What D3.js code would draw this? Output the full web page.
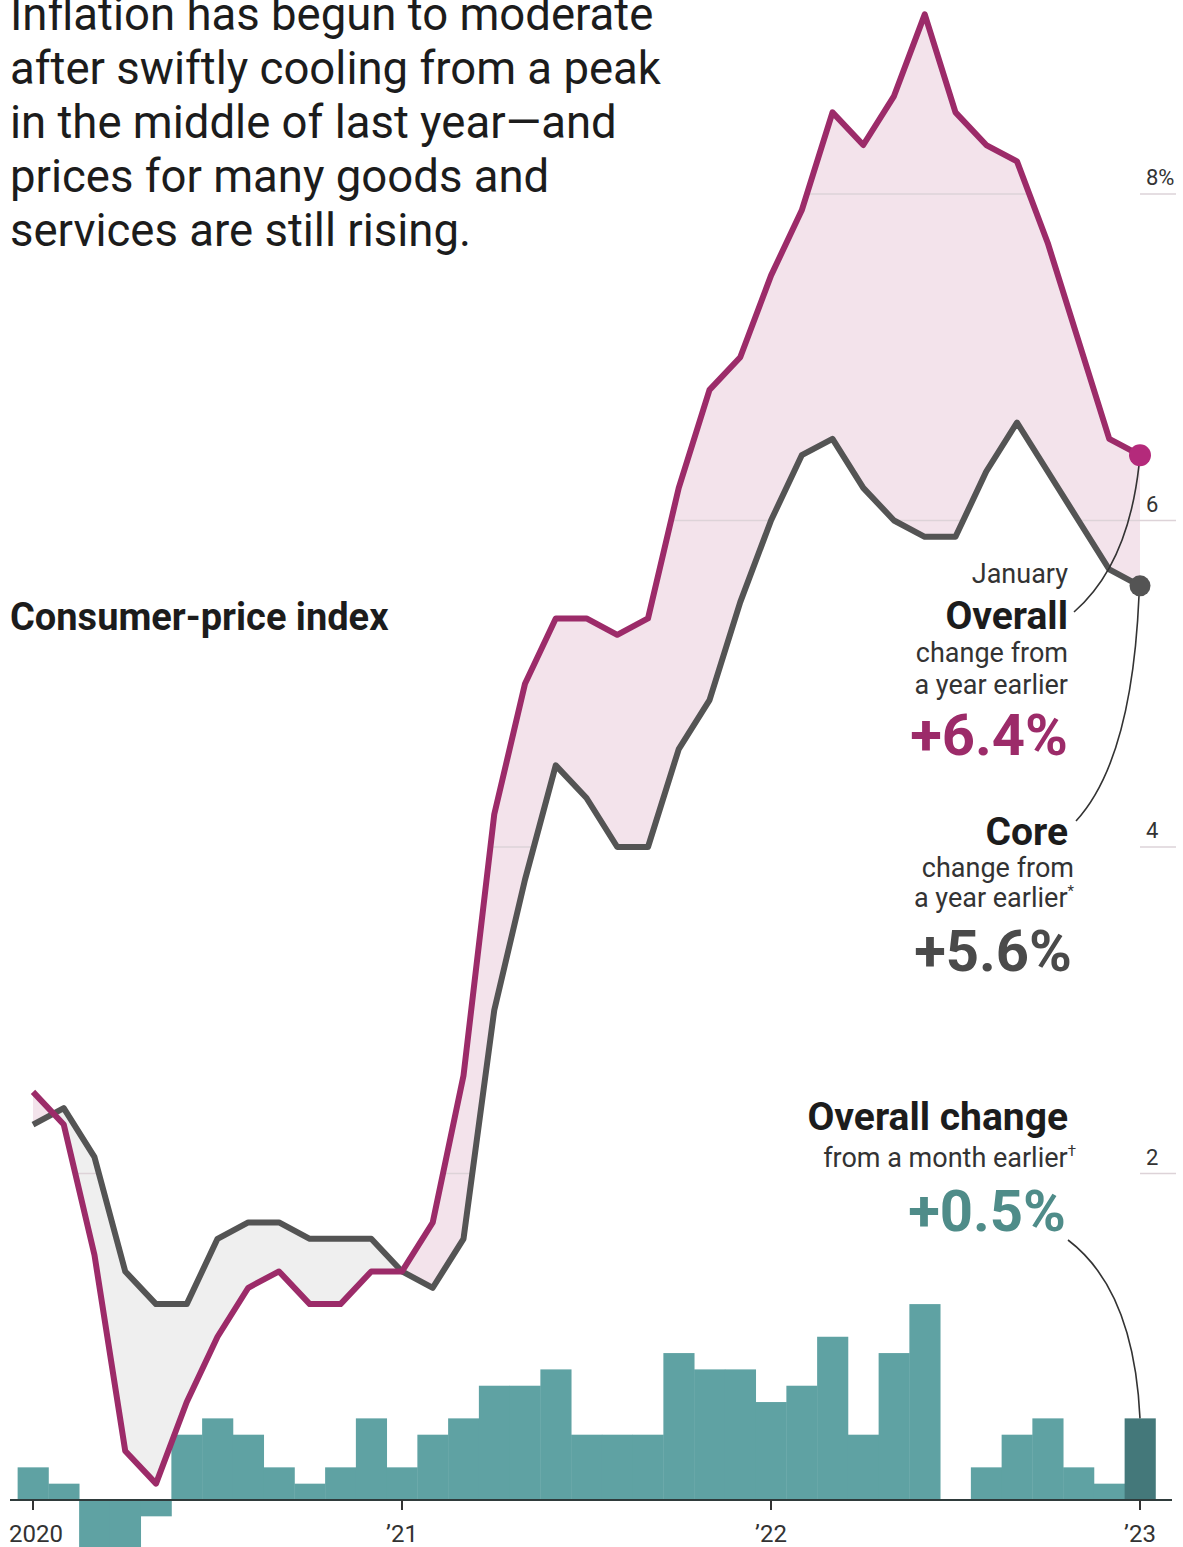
<!DOCTYPE html>
<html>
<head>
<meta charset="utf-8">
<script src="https://cdn.jsdelivr.net/npm/d3@7"></script>
<style>
  body { margin: 0; background: #fff; }
</style>
</head>
<body>
<svg id="chart"></svg>
<script>
const width = 1183, height = 1547;

// one point per month, Jan 2020 .. Jan 2023
const months = d3.utcMonth.range(new Date(Date.UTC(2020, 0, 1)), new Date(Date.UTC(2023, 1, 1)))
  .map(d3.utcFormat("%Y-%m"));

// change from a year earlier, %
const overall = [2.5, 2.3, 1.5, 0.3, 0.1, 0.6, 1.0, 1.3, 1.4, 1.2, 1.2, 1.4,
  1.4, 1.7, 2.6, 4.2, 5.0, 5.4, 5.4, 5.3, 5.4, 6.2, 6.8, 7.0,
  7.5, 7.9, 8.5, 8.3, 8.6, 9.1, 8.5, 8.3, 8.2, 7.7, 7.1, 6.5, 6.4];
const core = [2.3, 2.4, 2.1, 1.4, 1.2, 1.2, 1.6, 1.7, 1.7, 1.6, 1.6, 1.6,
  1.4, 1.3, 1.6, 3.0, 3.8, 4.5, 4.3, 4.0, 4.0, 4.6, 4.9, 5.5,
  6.0, 6.4, 6.5, 6.2, 6.0, 5.9, 5.9, 6.3, 6.6, 6.3, 6.0, 5.7, 5.6];
// change from a month earlier, %
const monthly = [0.2, 0.1, -0.4, -0.7, -0.1, 0.4, 0.5, 0.4, 0.2, 0.1, 0.2, 0.5,
  0.2, 0.4, 0.5, 0.7, 0.7, 0.8, 0.4, 0.4, 0.4, 0.9, 0.8, 0.8,
  0.6, 0.7, 1.0, 0.4, 0.9, 1.2, 0.0, 0.2, 0.4, 0.5, 0.2, 0.1, 0.5];

const yTicks = [2, 4, 6, 8];
const yearTicks = ["2020-01", "2021-01", "2022-01", "2023-01"];
const yearLabels = ["2020", "\u201921", "\u201922", "\u201923"];

const titleLines = [
  "Inflation has begun to moderate",
  "after swiftly cooling from a peak",
  "in the middle of last year\u2014and",
  "prices for many goods and",
  "services are still rising."
];

const col = {
  overall: "#9c2b69",
  overallDot: "#b42a7b",
  core: "#545454",
  pink: "#f3e3eb",
  grey: "#efefef",
  bar: "#5fa2a3",
  barLast: "#44787a",
  teal: "#4f8c89",
  grid: "#ddd3d8",
  text: "#222"
};
const font = "Roboto, 'Noto Sans', sans-serif";

//------------------------------

const svg = d3.select("#chart")
  .attr("xmlns", "http://www.w3.org/2000/svg")
  .attr("width", width)
  .attr("height", height);

svg.append("rect")
  .attr("width", width)
  .attr("height", height)
  .attr("fill", "#fff");

const x = d3.scalePoint().domain(months).range([33, 1140]);
const y = d3.scaleLinear().domain([0, 8]).range([1500, 194]);
const step = x.step();

const rows = months.map((m, i) => ({m: m, o: overall[i], c: core[i], v: monthly[i]}));
const last = rows[rows.length - 1];

function addText(g, str, px, py, size, weight, fill, anchor) {
  return g.append("text")
    .attr("x", px)
    .attr("y", py)
    .attr("text-anchor", anchor || "start")
    .attr("font-family", font)
    .attr("font-size", size)
    .attr("font-weight", weight || 400)
    .attr("fill", fill || col.text)
    .text(str);
}

// band between the two lines: pink where overall is above core, grey below
const band = d3.area().x(d => x(d.m)).y0(d => y(d.o)).y1(d => y(d.c));
const defs = svg.append("defs");
defs.append("clipPath").attr("id", "above-core").append("path")
  .attr("d", d3.area().x(d => x(d.m)).y0(0).y1(d => y(d.c))(rows));
defs.append("clipPath").attr("id", "below-core").append("path")
  .attr("d", d3.area().x(d => x(d.m)).y0(height).y1(d => y(d.c))(rows));
const gridClip = defs.append("clipPath").attr("id", "grid-clip");
gridClip.append("path").attr("d", band(rows));
gridClip.append("rect")
  .attr("x", x(last.m)).attr("y", 0)
  .attr("width", width - x(last.m)).attr("height", height);

svg.append("path")
  .attr("d", band(rows))
  .attr("fill", col.pink)
  .attr("clip-path", "url(#above-core)");
svg.append("path")
  .attr("d", band(rows))
  .attr("fill", col.grey)
  .attr("clip-path", "url(#below-core)");

// gridlines
svg.append("g")
  .attr("clip-path", "url(#grid-clip)")
  .selectAll("line")
  .data(yTicks)
  .enter()
  .append("line")
  .attr("x1", 10)
  .attr("x2", 1176)
  .attr("y1", d => y(d))
  .attr("y2", d => y(d))
  .attr("stroke", col.grid)
  .attr("stroke-width", 1.5);

const tickLabels = svg.append("g");
yTicks.forEach(t => {
  addText(tickLabels, t === 8 ? "8%" : String(t), 1146, y(t) - 9, 22, 400, "#333");
});

// monthly change bars
svg.append("g")
  .selectAll("rect")
  .data(rows)
  .enter()
  .append("rect")
  .attr("x", d => x(d.m) - step / 2)
  .attr("y", d => Math.min(y(d.v), y(0)))
  .attr("width", step + 0.4)
  .attr("height", d => Math.abs(y(d.v) - y(0)))
  .attr("fill", (d, i) => i === rows.length - 1 ? col.barLast : col.bar);

// lines
const lineO = d3.line().x(d => x(d.m)).y(d => y(d.o));
const lineC = d3.line().x(d => x(d.m)).y(d => y(d.c));
svg.append("path")
  .attr("d", lineC(rows))
  .attr("fill", "none")
  .attr("stroke", col.core)
  .attr("stroke-width", 6)
  .attr("stroke-linejoin", "round");
svg.append("path")
  .attr("d", lineO(rows))
  .attr("fill", "none")
  .attr("stroke", col.overall)
  .attr("stroke-width", 6)
  .attr("stroke-linejoin", "round");

// connectors
function curve(x0, y0, cx, cy, x1, y1) {
  const p = d3.path();
  p.moveTo(x0, y0);
  p.quadraticCurveTo(cx, cy, x1, y1);
  return p.toString();
}
const conn = svg.append("g")
  .attr("fill", "none")
  .attr("stroke", "#333")
  .attr("stroke-width", 1.6);
conn.append("path").attr("d", curve(x(last.m) - 1, y(last.o) + 10, 1128, 565, 1074, 612));
conn.append("path").attr("d", curve(x(last.m) - 1, y(last.c) + 10, 1132, 760, 1076, 821));
conn.append("path").attr("d", curve(1068, 1240, 1134, 1290, x(last.m), y(last.v)));

// end dots
svg.append("circle")
  .attr("cx", x(last.m)).attr("cy", y(last.o)).attr("r", 11)
  .attr("fill", col.overallDot);
svg.append("circle")
  .attr("cx", x(last.m)).attr("cy", y(last.c)).attr("r", 10.5)
  .attr("fill", col.core);

// x axis
const axis = svg.append("g");
axis.append("line")
  .attr("x1", 10).attr("x2", 1172)
  .attr("y1", y(0)).attr("y2", y(0))
  .attr("stroke", "#2f3b3b")
  .attr("stroke-width", 2);
axis.selectAll(".tick")
  .data(yearTicks)
  .enter()
  .append("line")
  .attr("x1", d => x(d)).attr("x2", d => x(d))
  .attr("y1", y(0)).attr("y2", y(0) + 10)
  .attr("stroke", "#333")
  .attr("stroke-width", 2);
yearTicks.forEach((d, i) => {
  addText(axis, yearLabels[i], x(d) + (i === 0 ? 3 : 0), 1542, 24, 400, "#333", "middle");
});

// title block
const title = svg.append("g");
titleLines.forEach((t, i) => {
  addText(title, t, 10, 30 + i * 54, 45.5, 400, "#1c1c1c");
});
addText(svg, "Consumer-price index", 10, 630, 38, 700, "#1c1c1c");

// annotations
const ann = svg.append("g");
const ax = 1068;
addText(ann, "January", ax, 583, 27, 400, "#333", "end");
addText(ann, "Overall", ax, 629, 39, 700, "#1c1c1c", "end");
addText(ann, "change from", ax, 662, 27, 400, "#333", "end");
addText(ann, "a year earlier", ax, 694, 27, 400, "#333", "end");
addText(ann, "+6.4%", ax, 755, 58, 700, col.overall, "end");

addText(ann, "Core", ax, 845, 39, 700, "#1c1c1c", "end");
addText(ann, "change from", ax + 6, 877, 27, 400, "#333", "end");
addText(ann, "a year earlier", ax + 6, 907, 27, 400, "#333", "end")
  .append("tspan").attr("font-size", 15).attr("dy", -11).text("*");
addText(ann, "+5.6%", ax + 4, 971, 58, 700, "#4a4a4a", "end");

addText(ann, "Overall change", ax, 1130, 39, 700, "#1c1c1c", "end");
addText(ann, "from a month earlier", ax + 8, 1167, 27, 400, "#333", "end")
  .append("tspan").attr("font-size", 15).attr("dy", -11).text("\u2020");
addText(ann, "+0.5%", ax - 2, 1231, 58, 700, col.teal, "end");
</script>
</body>
</html>
